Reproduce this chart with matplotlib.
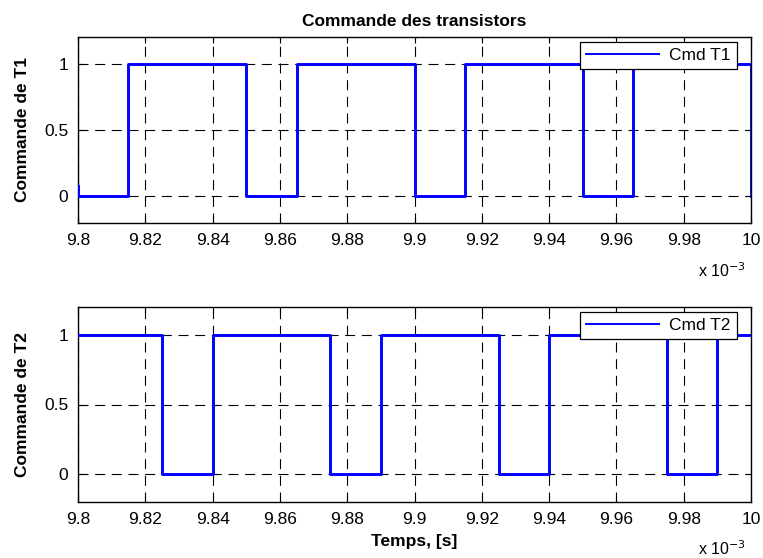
import matplotlib
matplotlib.use("Agg")
import matplotlib.pyplot as plt
import numpy as np

# Time in units of 1e-3 s (displayed with "x 10^-3")
t1_time = [9.8, 9.8, 9.8, 9.815, 9.815, 9.85, 9.85, 9.865, 9.865, 9.9, 9.9,
           9.915, 9.915, 9.95, 9.95, 9.965, 9.965, 10.0, 10.0]
t1_value = [0.08, 0.08, 0, 0, 1, 1, 0, 0, 1, 1, 0, 0, 1, 1, 0, 0, 1, 1, 0]

t2_time = [9.8, 9.825, 9.825, 9.84, 9.84, 9.875, 9.875, 9.89, 9.89, 9.925, 9.925,
           9.94, 9.94, 9.975, 9.975, 9.99, 9.99, 10.0]
t2_value = [1, 1, 0, 0, 1, 1, 0, 0, 1, 1, 0, 0, 1, 1, 0, 0, 1, 1]

x_ticks = [9.8, 9.82, 9.84, 9.86, 9.88, 9.9, 9.92, 9.94, 9.96, 9.98, 10.0]
x_tick_labels = ["9.8", "9.82", "9.84", "9.86", "9.88", "9.9", "9.92", "9.94", "9.96", "9.98", "10"]
y_ticks = [0, 0.5, 1]
y_tick_labels = ["0", "0.5", "1"]

plt.rcParams['font.family'] = ['Liberation Sans', 'DejaVu Sans']
FS = 12.5

fig = plt.figure(figsize=(7.63, 5.58), dpi=100)
W, H = 763, 558

def ax_rect(l, r, t, b):
    return [l / W, 1 - b / H, (r - l) / W, (b - t) / H]

ax1 = fig.add_axes(ax_rect(78, 751, 37, 223))
ax2 = fig.add_axes(ax_rect(78, 751, 307, 502))

for ax, tt, vv, lab, ylab in [(ax1, t1_time, t1_value, "Cmd T1", "Commande de T1"),
                              (ax2, t2_time, t2_value, "Cmd T2", "Commande de T2")]:
    ax.plot(tt, vv, color=(0, 0, 1), lw=2.1, label=lab, zorder=3)
    ax.set_xlim(9.8, 10.0)
    ax.set_ylim(-0.2, 1.2)
    ax.set_xticks(x_ticks)
    ax.set_xticklabels(x_tick_labels, fontsize=FS)
    ax.set_yticks(y_ticks)
    ax.set_yticklabels(y_tick_labels, fontsize=FS)
    ax.tick_params(direction='in', top=True, right=True, length=4, width=0.8, pad=7)
    ax.grid(True, color='black', linestyle=(0, (9, 6)), linewidth=0.8)
    for s in ax.spines.values():
        s.set_linewidth(1.0)
    ax.set_ylabel(ylab, fontsize=FS, fontweight='bold', labelpad=10)
    leg = ax.legend(loc='upper right', bbox_to_anchor=(0.979, 0.975), borderaxespad=0,
                    fancybox=False, edgecolor='black', framealpha=1, fontsize=FS,
                    handlelength=4.2, handletextpad=0.6, borderpad=0.35)
    leg.get_frame().set_linewidth(0.9)
    leg.get_lines()[0].set_linewidth(1.4)

ax1.set_title("Commande des transistors", fontsize=FS, fontweight='bold', pad=8)
ax2.set_xlabel("Temps, [s]", fontsize=FS, fontweight='bold', labelpad=5)

fig.text(698 / W, 1 - 271 / H, "x 10$^{-3}$", fontsize=FS - 1, ha='left', va='center')
fig.text(698 / W, 1 - 549 / H, "x 10$^{-3}$", fontsize=FS - 1, ha='left', va='center')

fig.savefig("out.png", dpi=100)
